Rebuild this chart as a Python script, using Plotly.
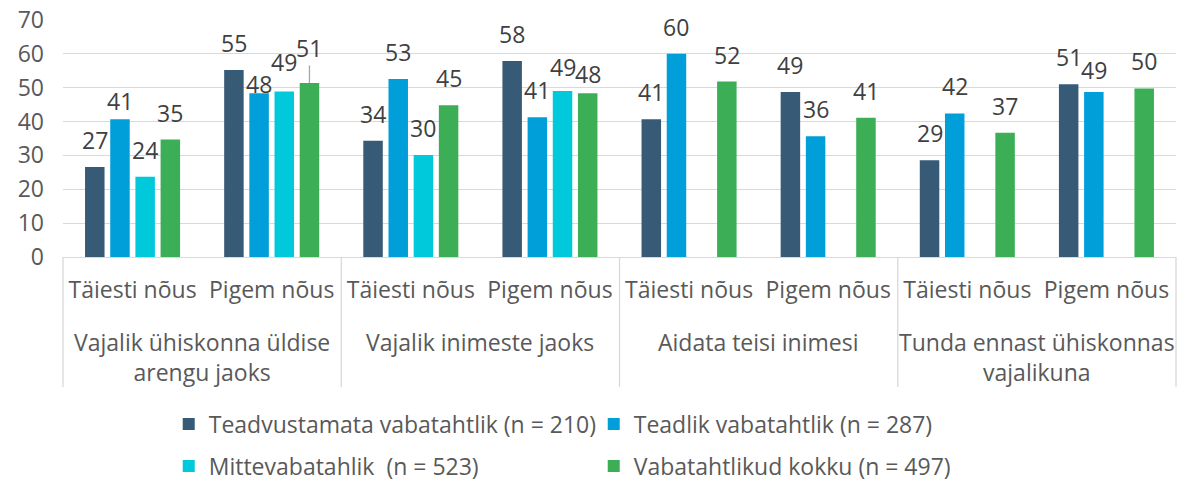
import plotly.graph_objects as go

main_cats = [
    "Vajalik ühiskonna üldise<br>arengu jaoks",
    "Vajalik inimeste jaoks",
    "Aidata teisi inimesi",
    "Tunda ennast ühiskonnas<br>vajalikuna",
]
sub_cats = ["Täiesti nõus", "Pigem nõus"]

series_names = [
    "Teadvustamata vabatahtlik (n = 210)",
    "Teadlik vabatahtlik (n = 287)",
    "Mittevabatahlik  (n = 523)",
    "Vabatahtlikud kokku (n = 497)",
]
teadvustamata = [26.6, 55.2, 34.3, 57.9, 40.7, 48.7, 28.6, 51.0]
teadlik = [40.7, 48.4, 52.6, 41.3, 60.0, 35.7, 42.4, 48.7]
mittevabatahtlik = [23.7, 48.9, 30.1, 49.0, None, None, None, None]
kokku = [34.7, 51.4, 44.8, 48.4, 51.8, 41.1, 36.7, 49.8]

colors = ["#375A76", "#009FDA", "#00C9DB", "#3CAE55"]
legends = ["legend", "legend", "legend2", "legend2"]

W, H = 1178, 485
ML, MR, MT, MB = 63, 2, 20, 228
BARGAP, BARGROUPGAP = 0.276, 0.226
FONT = "Open Sans"
FS = 23
GRID = "#D9D9D9"
TXT = "#595959"

# manual nudges of a few value labels (series index, category index) -> extra px up
label_nudge = {(1, 0): -9, (1, 1): -18, (2, 1): 2, (3, 3): -8, (2, 3): -3, (1, 7): -5}
# label placed higher with a leader line
leader_labels = {(3, 1): 35}

keys = [f"{m}|{s}" for m in main_cats for s in sub_cats]
tick_text = [s for _ in main_cats for s in sub_cats]

fig = go.Figure()
all_series = [teadvustamata, teadlik, mittevabatahtlik, kokku]
for name, vals, col, lg in zip(series_names, all_series, colors, legends):
    fig.add_trace(go.Bar(x=keys, y=vals, name=name, marker_color=col,
                         marker_line_width=0, legend=lg, hoverinfo="x+y"))

# value labels above bars (offset within the group follows the bar layout)
plot_w = W - ML - MR
slot = plot_w / len(keys) * (1 - BARGAP) / len(all_series)
annotations = []
for j, vals in enumerate(all_series):
    for i, (k, v) in enumerate(zip(keys, vals)):
        if v is None:
            continue
        lab = dict(x=k, y=v, xref="x", yref="y", text=f"{v:.0f}",
                   xshift=(j - 1.5) * slot,
                   font=dict(size=FS, color="#404040", family=FONT))
        if (j, i) in leader_labels:
            lab.update(showarrow=True, arrowhead=0, arrowwidth=1.3, arrowcolor="#A6A6A6",
                       ax=0, ay=-leader_labels[(j, i)], standoff=0)
        else:
            lab.update(showarrow=False, xanchor="center", yanchor="bottom",
                       yshift=9 + label_nudge.get((j, i), 0))
        annotations.append(lab)

# outer category labels
for i, m in enumerate(main_cats):
    annotations.append(dict(
        x=(i + 0.5) / len(main_cats), y=0, xref="paper", yref="paper", text=m,
        showarrow=False, xanchor="center", yanchor="top", yshift=-67, align="center",
        font=dict(size=FS, color=TXT, family=FONT)))

plot_h = H - MT - MB
shapes = [dict(type="line", xref="paper", yref="paper", x0=i / len(main_cats), x1=i / len(main_cats),
               y0=0, y1=-(387 - (H - MB)) / plot_h, line=dict(color=GRID, width=1.3))
          for i in range(len(main_cats) + 1)]

fig.update_layout(
    width=W, height=H,
    margin=dict(l=ML, r=MR, t=MT, b=MB),
    paper_bgcolor="white", plot_bgcolor="white",
    font=dict(family=FONT, size=FS, color=TXT),
    barmode="group", bargap=BARGAP, bargroupgap=BARGROUPGAP,
    showlegend=True,
    annotations=annotations, shapes=shapes,
    legend=dict(orientation="h", x=0.095, xanchor="left", yref="container", y=1 - 424 / H,
                yanchor="middle", entrywidth=380, entrywidthmode="pixels",
                font=dict(size=FS, color=TXT, family=FONT)),
    legend2=dict(orientation="h", x=0.095, xanchor="left", yref="container", y=1 - 466 / H,
                 yanchor="middle", entrywidth=380, entrywidthmode="pixels",
                 font=dict(size=FS, color=TXT, family=FONT)),
)
fig.update_yaxes(range=[0, 70], dtick=10, showgrid=True, gridcolor=GRID, gridwidth=1.3,
                 zeroline=False, showline=False, ticks="", ticklabelstandoff=18,
                 tickfont=dict(size=FS, color=TXT))
fig.update_xaxes(type="category", tickmode="array", tickvals=keys, ticktext=tick_text,
                 showline=True, linecolor=GRID, linewidth=1.3, showgrid=False,
                 ticks="", ticklabelstandoff=12, tickfont=dict(size=FS, color=TXT))

fig.write_html("out.html", config={"displayModeBar": False},
               post_script="document.body.style.margin='0';")
